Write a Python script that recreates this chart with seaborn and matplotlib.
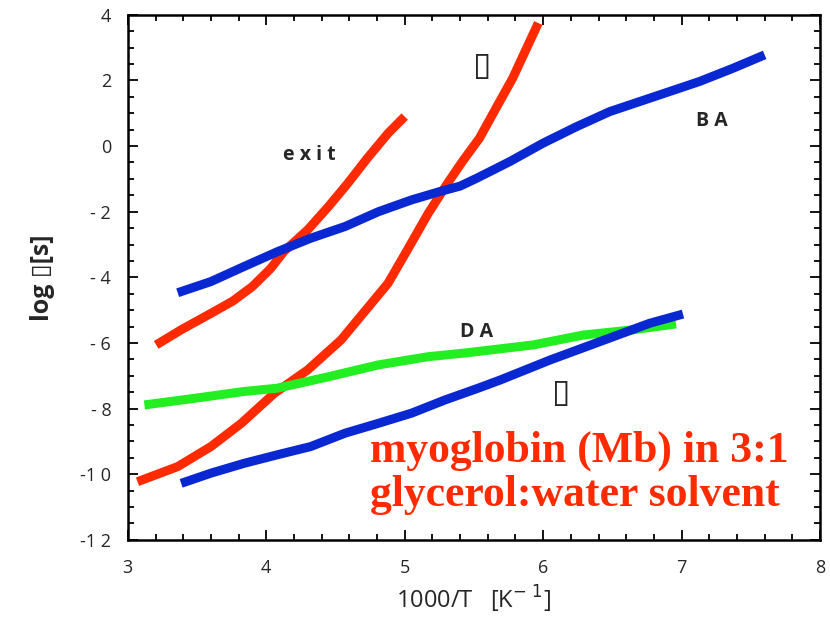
import numpy as np
import pandas as pd
import matplotlib
matplotlib.use("Agg")
import matplotlib.pyplot as plt
import seaborn as sns
from matplotlib.ticker import MultipleLocator, FixedLocator, FixedFormatter

# ---- data ----
exit_x = [3.205, 3.385, 3.60, 3.76, 3.90, 4.03, 4.13, 4.30, 4.45, 4.59, 4.73, 4.88, 5.00]
exit_y = [-6.06, -5.60, -5.10, -4.72, -4.28, -3.74, -3.20, -2.55, -1.84, -1.13, -0.37, 0.39, 0.90]

red2_x = [3.07, 3.36, 3.60, 3.82, 4.06, 4.30, 4.54, 4.78, 4.88, 5.02, 5.17,
          5.31, 5.42, 5.54, 5.66, 5.78, 5.88, 5.965]
red2_y = [-10.23, -9.77, -9.16, -8.45, -7.53, -6.82, -5.91, -4.69, -4.18, -3.16, -2.05,
          -1.13, -0.45, 0.24, 1.16, 2.07, 2.98, 3.75]

ba_x = [3.36, 3.60, 3.84, 4.08, 4.32, 4.57, 4.81, 5.05, 5.25, 5.40, 5.52, 5.76, 6.00,
        6.24, 6.48, 6.77, 7.13, 7.37, 7.60]
ba_y = [-4.47, -4.13, -3.67, -3.22, -2.81, -2.45, -2.00, -1.64, -1.39, -1.22, -0.98, -0.47, 0.09,
        0.59, 1.05, 1.46, 1.97, 2.37, 2.78]

da_x = [3.12, 3.48, 3.84, 4.08, 4.45, 4.81, 5.17, 5.45, 5.93, 6.29, 6.65, 6.96]
da_y = [-7.89, -7.69, -7.48, -7.38, -7.03, -6.67, -6.42, -6.30, -6.06, -5.76, -5.60, -5.42]

blue2_x = [3.385, 3.60, 3.84, 4.08, 4.32, 4.57, 4.81, 5.05, 5.29, 5.53, 5.69,
           6.05, 6.41, 6.77, 7.01]
blue2_y = [-10.28, -9.97, -9.67, -9.41, -9.16, -8.75, -8.45, -8.14, -7.74, -7.38, -7.13,
           -6.52, -5.96, -5.40, -5.12]

y_ticks = [-12, -10, -8, -6, -4, -2, 0, 2, 4]
y_ticklabels = ["-1 2", "-1 0", "- 8", "- 6", "- 4", "- 2", "0", "2", "4"]
x_ticks = [3, 4, 5, 6, 7, 8]
x_ticklabels = ["3", "4", "5", "6", "7", "8"]

RED = "#FF2A00"
BLUE = "#0A28D2"
GREEN = "#22EE22"

sns.set_style("white")
plt.rcParams["font.family"] = ["Open Sans", "DejaVu Sans"]

fig = plt.figure(figsize=(8.30, 6.19), dpi=100)
ax = fig.add_axes([0.154, 0.128, 0.834, 0.848])

series = [
    (exit_x, exit_y, RED),
    (red2_x, red2_y, RED),
    (ba_x, ba_y, BLUE),
    (da_x, da_y, GREEN),
    (blue2_x, blue2_y, BLUE),
]
for xs, ys, c in series:
    df = pd.DataFrame({"x": xs, "y": ys})
    sns.lineplot(data=df, x="x", y="y", sort=False, color=c, lw=6.5,
                 solid_capstyle="butt", solid_joinstyle="round", ax=ax)

ax.set_xlim(3, 8)
ax.set_ylim(-12, 4)
ax.xaxis.set_major_locator(FixedLocator(x_ticks))
ax.xaxis.set_major_formatter(FixedFormatter(x_ticklabels))
ax.yaxis.set_major_locator(FixedLocator(y_ticks))
ax.yaxis.set_major_formatter(FixedFormatter(y_ticklabels))
ax.xaxis.set_minor_locator(MultipleLocator(0.2))
ax.yaxis.set_minor_locator(MultipleLocator(0.5))
ax.tick_params(which="both", direction="in", top=True, right=True,
               bottom=True, left=True, color="black", width=1.3)
ax.tick_params(which="major", length=7, labelsize=13)
ax.tick_params(axis="y", which="major", pad=12)
ax.tick_params(axis="x", which="major", pad=14)
ax.tick_params(which="minor", length=4)
for s in ax.spines.values():
    s.set_color("black")
    s.set_linewidth(1.8)

ax.set_xlabel("1000/T   [K$^{-\\ 1}$]", fontsize=17, labelpad=5)
ax.set_ylabel("log \u25af[s]", fontsize=18, fontweight="bold", labelpad=18)

lab = dict(fontsize=14, fontweight="bold", ha="center", va="center")
ax.text(4.31, -0.27, "e x i t", **lab)
ax.text(7.22, 0.77, "B A", **lab)
ax.text(5.52, -5.66, "D A", **lab)
ax.text(5.56, 2.45, "\u25af", fontsize=24, family="DejaVu Sans",
        ha="center", va="center")
ax.text(6.13, -7.52, "\u25af", fontsize=24, family="DejaVu Sans",
        ha="center", va="center")

ax.text(4.75, -8.68, "myoglobin (Mb) in 3:1\nglycerol:water solvent",
        color=RED, fontsize=31.5, fontweight="bold", family="Liberation Serif",
        ha="left", va="top", linespacing=1.13)

fig.savefig("out.png", dpi=100)
